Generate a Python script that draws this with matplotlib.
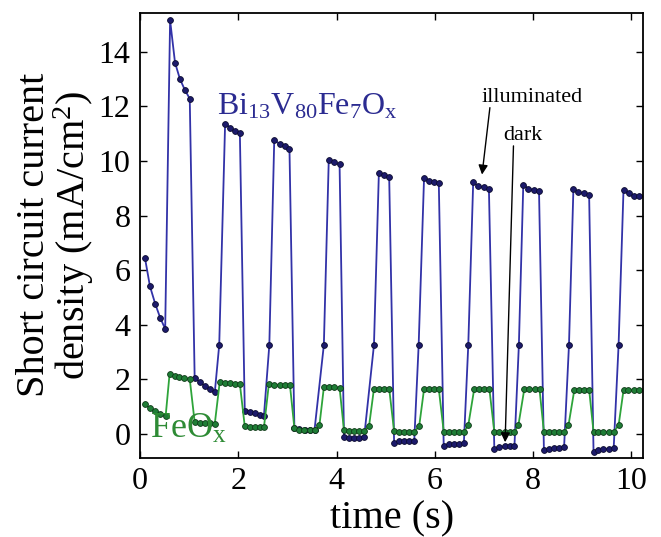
import matplotlib
matplotlib.use('Agg')
import matplotlib.pyplot as plt
import numpy as np

plt.rcParams['font.family'] = ['Liberation Serif', 'DejaVu Serif']
plt.rcParams['mathtext.fontset'] = 'custom'
plt.rcParams['mathtext.rm'] = 'Liberation Serif'
plt.rcParams['mathtext.it'] = 'Liberation Serif:italic'

# Bi13V80Fe7Ox: time (s) and current (mA/cm2)
bi_time = [0.10, 0.20, 0.31, 0.41, 0.51, 0.61, 0.71, 0.81, 0.91, 1.01,
           1.11, 1.22, 1.32, 1.42, 1.52, 1.61, 1.73, 1.83, 1.93, 2.03,
           2.13, 2.23, 2.33, 2.43, 2.52, 2.63, 2.73, 2.84, 2.94, 3.04,
           3.14, 3.24, 3.35, 3.45, 3.55, 3.74, 3.84, 3.94, 4.06,
           4.15, 4.25, 4.35, 4.45, 4.56, 4.76, 4.86, 4.96, 5.07,
           5.17, 5.27, 5.37, 5.48, 5.58, 5.67, 5.78, 5.88, 5.98, 6.08,
           6.18, 6.29, 6.39, 6.49, 6.59, 6.68, 6.78, 6.88, 6.99, 7.10,
           7.21, 7.31, 7.42, 7.52, 7.62, 7.71, 7.80, 7.90, 8.01, 8.12,
           8.22, 8.33, 8.43, 8.53, 8.63, 8.73, 8.82, 8.92, 9.03, 9.14,
           9.23, 9.33, 9.43, 9.54, 9.64, 9.74, 9.84, 9.95, 10.05, 10.16]
bi_current = [6.43, 5.41, 4.75, 4.25, 3.85, 15.15, 13.60, 13.00, 12.60, 12.28,
              2.05, 1.90, 1.76, 1.64, 1.53, 3.26, 11.37, 11.22, 11.10, 11.04,
              0.86, 0.81, 0.76, 0.71, 0.66, 3.26, 10.75, 10.63, 10.54, 10.44,
              0.22, 0.18, 0.16, 0.15, 0.15, 3.26, 10.05, 9.95, 9.87,
              -0.12, -0.13, -0.13, -0.13, -0.12, 3.26, 9.56, 9.50, 9.41,
              -0.31, -0.27, -0.26, -0.26, -0.25, 3.26, 9.39, 9.28, 9.24, 9.20,
              -0.45, -0.38, -0.37, -0.35, -0.34, 3.26, 9.21, 9.08, 9.03, 8.99,
              -0.53, -0.48, -0.45, -0.44, -0.43, 3.26, 9.13, 8.99, 8.93, 8.90,
              -0.60, -0.53, -0.51, -0.50, -0.49, 3.26, 8.97, 8.86, 8.81, 8.77,
              -0.66, -0.57, -0.55, -0.54, -0.52, 3.26, 8.94, 8.81, 8.73, 8.71]

# FeOx
fe_time = [0.09, 0.20, 0.30, 0.40, 0.52, 0.60, 0.70, 0.80, 0.90, 1.01,
           1.11, 1.22, 1.32, 1.42, 1.52, 1.62, 1.73, 1.83, 1.93, 2.03,
           2.13, 2.23, 2.33, 2.43, 2.52, 2.62, 2.73, 2.84, 2.94, 3.05,
           3.14, 3.24, 3.34, 3.45, 3.55, 3.65, 3.74, 3.84, 3.94, 4.06,
           4.15, 4.25, 4.35, 4.45, 4.56, 4.66, 4.76, 4.86, 4.96, 5.07,
           5.17, 5.27, 5.37, 5.48, 5.58, 5.68, 5.78, 5.88, 5.98, 6.08,
           6.18, 6.29, 6.39, 6.49, 6.59, 6.68, 6.80, 6.90, 7.01, 7.11,
           7.21, 7.31, 7.42, 7.52, 7.62, 7.70, 7.82, 7.92, 8.03, 8.13,
           8.22, 8.33, 8.43, 8.53, 8.63, 8.72, 8.84, 8.94, 9.04, 9.14,
           9.23, 9.33, 9.43, 9.54, 9.64, 9.74, 9.84, 9.94, 10.05, 10.15]
fe_current = [1.11, 0.94, 0.84, 0.75, 0.67, 2.21, 2.14, 2.09, 2.05, 2.01,
              0.44, 0.42, 0.40, 0.39, 0.38, 1.90, 1.87, 1.86, 1.85, 1.84,
              0.28, 0.26, 0.25, 0.24, 0.24, 1.82, 1.80, 1.80, 1.79, 1.79,
              0.22, 0.16, 0.14, 0.14, 0.14, 0.32, 1.71, 1.71, 1.71, 1.70,
              0.13, 0.11, 0.11, 0.11, 0.11, 0.29, 1.66, 1.66, 1.66, 1.66,
              0.11, 0.09, 0.09, 0.09, 0.09, 0.28, 1.65, 1.65, 1.65, 1.65,
              0.09, 0.08, 0.08, 0.08, 0.08, 0.32, 1.64, 1.64, 1.64, 1.64,
              0.09, 0.08, 0.08, 0.08, 0.08, 0.32, 1.64, 1.64, 1.64, 1.64,
              0.08, 0.08, 0.08, 0.08, 0.08, 0.32, 1.63, 1.63, 1.63, 1.63,
              0.08, 0.08, 0.08, 0.08, 0.08, 0.32, 1.60, 1.60, 1.60, 1.60]

fig = plt.figure(figsize=(6.61, 5.37), dpi=100)
ax = fig.add_axes([0.212, 0.148, 0.761, 0.828])

# 两条曲线
ax.plot(bi_time, bi_current, '-o', color='#3232a8', lw=1.3,
        ms=4.2, mfc='#1c1a6b', mec='#0c0c30', mew=0.6)
ax.plot(fe_time, fe_current, '-o', color='#2ea43a', lw=1.3,
        ms=4.2, mfc='#1f7d36', mec='#0f3a18', mew=0.6)

ax.set_xlim(0, 10.24)
ax.set_ylim(-0.86, 15.42)
ax.set_xticks([0, 2, 4, 6, 8, 10])
ax.set_yticks([0, 2, 4, 6, 8, 10, 12, 14])
ax.tick_params(direction='in', top=True, right=True, length=5, width=1,
               labelsize=23, pad=7)
for s in ax.spines.values():
    s.set_linewidth(1.3)

ax.set_xlabel('time (s)', fontsize=29, labelpad=3)
ax.set_ylabel('Short circuit current\ndensity (mA/cm$^2$)', fontsize=29,
              linespacing=0.95, labelpad=2)

# 标签
ax.text(1.57, 11.7, r'Bi$_{13}$V$_{80}$Fe$_{7}$O$_{\mathrm{x}}$', fontsize=23,
        color='#2b2b91')
ax.text(0.2, -0.15, r'FeO$_{\mathrm{x}}$', fontsize=26, color='#2e8b35')

# 注释与箭头
arrow = dict(arrowstyle='-|>', color='k', lw=1, mutation_scale=14,
             shrinkA=0, shrinkB=0)
ax.text(6.96, 12.15, 'illuminated', fontsize=16, ha='left', va='baseline')
ax.annotate('', xy=(6.96, 9.5), xytext=(7.12, 11.95), arrowprops=arrow)
ax.text(7.39, 10.75, 'dark', fontsize=16, ha='left', va='baseline')
ax.annotate('', xy=(7.43, -0.3), xytext=(7.6, 10.55), arrowprops=arrow)

fig.savefig('out.png', dpi=100)
